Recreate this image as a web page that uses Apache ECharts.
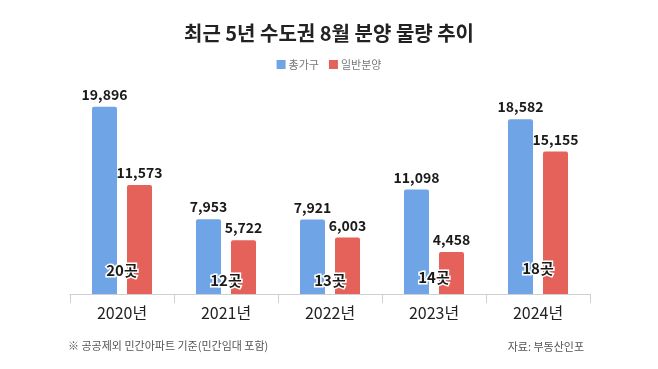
<!DOCTYPE html>
<html>
<head>
<meta charset="utf-8">
<script src="https://cdn.jsdelivr.net/npm/echarts@6/dist/echarts.min.js"></script>
<style>
html,body{margin:0;padding:0;background:#fff;}
#chart{width:658px;height:369px;}
</style>
</head>
<body>
<div id="chart"></div>
<script>
const categories = ['2020년', '2021년', '2022년', '2023년', '2024년'];
const totalHouseholds = [19896, 7953, 7921, 11098, 18582];
const generalSale = [11573, 5722, 6003, 4458, 15155];
const complexCounts = ['20곳', '12곳', '13곳', '14곳', '18곳'];
const countLabelHeights = [2550, 1500, 1500, 1800, 2750];

const FONT = '"Noto Sans CJK KR", "Noto Sans", sans-serif';
const chart = echarts.init(document.getElementById('chart'));
chart.setOption({
  backgroundColor: '#ffffff',
  textStyle: { fontFamily: FONT },
  title: [
    { text: '최근 5년 수도권 8월 분양 물량 추이', left: 'center', top: 18,
      textStyle: { fontFamily: FONT, fontSize: 20, fontWeight: 'bold', color: '#222' } },
    { text: '※ 공공제외 민간아파트 기준(민간임대 포함)', left: 63, top: 335,
      textStyle: { fontFamily: FONT, fontSize: 11, fontWeight: 'normal', color: '#555' } },
    { text: '자료: 부동산인포', right: 69, top: 336,
      textStyle: { fontFamily: FONT, fontSize: 11, fontWeight: 'normal', color: '#555' } }
  ],
  legend: {
    data: ['총가구', '일반분양'], top: 54, left: 'center',
    itemWidth: 9, itemHeight: 9, itemGap: 10, icon: 'rect',
    textStyle: { fontFamily: FONT, fontSize: 11, color: '#777', padding: [0, 0, 0, -2] }
  },
  grid: { left: 70, right: 68, top: 87, bottom: 75, containLabel: false },
  xAxis: {
    type: 'category', data: categories,
    axisLine: { show: true, lineStyle: { color: '#d0d0d0', width: 1 } },
    axisTick: { show: true, length: 9, lineStyle: { color: '#d0d0d0' } },
    axisLabel: { fontFamily: FONT, fontSize: 16, color: '#222', margin: 11 }
  },
  yAxis: { type: 'value', min: 0, max: 22000, show: false, splitLine: { show: false } },
  series: [
    { name: '총가구', type: 'bar', data: totalHouseholds, barWidth: 25, barGap: '40%',
      itemStyle: { color: '#6fa4e6', borderRadius: [2, 2, 0, 0] },
      label: { show: true, position: 'top', distance: 5, fontFamily: FONT, fontSize: 14,
        fontWeight: 'bold', color: '#1a1a1a',
        formatter: p => p.value.toLocaleString('en-US') } },
    { name: '일반분양', type: 'bar', data: generalSale, barWidth: 25,
      itemStyle: { color: '#e5625b', borderRadius: [2, 2, 0, 0] },
      label: { show: true, position: 'top', distance: 5, fontFamily: FONT, fontSize: 14,
        fontWeight: 'bold', color: '#1a1a1a',
        formatter: p => p.value.toLocaleString('en-US') } },
    { name: 'count', type: 'scatter', symbolSize: 0, z: 10,
      itemStyle: { opacity: 1 },
      data: countLabelHeights.map((v, i) => ({ value: [categories[i], v], label: { formatter: complexCounts[i] } })),
      label: { show: true, position: 'inside', fontFamily: FONT, fontSize: 15, fontWeight: 'bold',
        color: '#1a1a1a', opacity: 1, textBorderColor: '#ffffff', textBorderWidth: 3 },
      emphasis: { disabled: true },
      tooltip: { show: false } }
  ]
});
</script>
</body>
</html>
